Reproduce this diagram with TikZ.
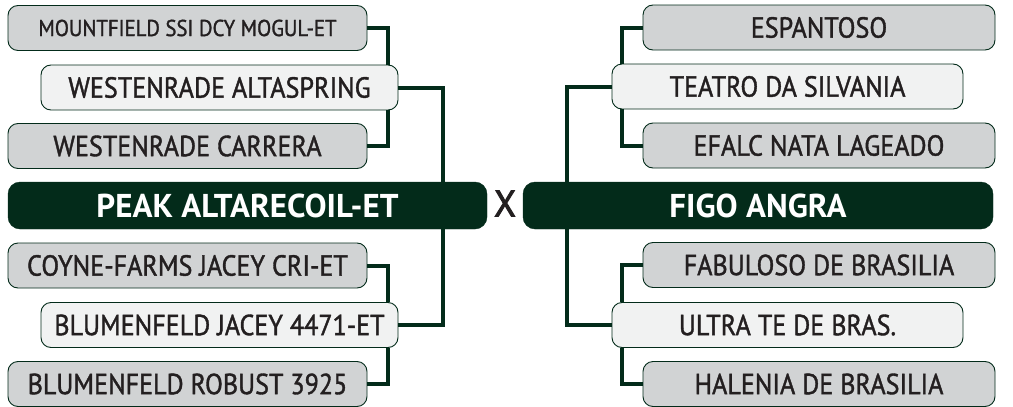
\documentclass[tikz,border=0pt]{standalone}
\usepackage{fontspec}
\setmainfont{PT Sans}
\newfontfamily\bodyfont{PT Sans}[FakeBold=1.3,FakeStretch=0.9]
\newfontfamily\xfont{PT Sans}[FakeBold=2.5,FakeStretch=0.95]
\definecolor{dkgreen}{HTML}{032B1A}
\definecolor{boxgray}{HTML}{D1D3D4}
\definecolor{boxlight}{HTML}{F1F2F2}
\definecolor{txt}{HTML}{231F20}
\tikzset{
  gbox/.style={draw=dkgreen, line width=0.9pt, fill=boxgray, rounded corners=10pt, text=txt,
    inner sep=0pt, minimum height=45pt, font=\bodyfont\fontsize{29}{29}\selectfont},
  lbox/.style={gbox, fill=boxlight},
  mainbox/.style={draw=dkgreen, fill=dkgreen, rounded corners=12pt, text=white, inner sep=0pt,
    minimum height=47pt, font=\fontsize{33}{33}\selectfont\bfseries},
  conn/.style={draw=dkgreen, line width=4pt},
}
\begin{document}
\begin{tikzpicture}[x=1pt,y=-1pt]
\path[use as bounding box] (0,0) rectangle (1013,407);
% left side
\node[gbox, minimum width=359pt, font=\bodyfont\fontsize{23}{23}\selectfont] (m1) at (187.5,28) {MOUNTFIELD SSI DCY MOGUL-ET};
\node[lbox, minimum width=357pt] (a1) at (219.5,87.5) {WESTENRADE ALTASPRING};
\node[gbox, minimum width=359pt] (c1) at (187.5,146) {WESTENRADE CARRERA};
\node[mainbox, minimum width=479pt] (peak) at (247.5,205.5) {PEAK ALTARECOIL-ET};
\node[gbox, minimum width=359pt] (m2) at (187.5,265.5) {COYNE-FARMS JACEY CRI-ET};
\node[lbox, minimum width=357pt] (a2) at (219.5,325) {BLUMENFELD JACEY 4471-ET};
\node[gbox, minimum width=359pt] (c2) at (187.5,384) {BLUMENFELD ROBUST 3925};
% X
\node[text=txt, inner sep=0pt, font=\xfont\fontsize{37}{37}\selectfont] (x) at (505,203.5) {X};
% right side
\node[gbox, minimum width=352pt] (e1) at (819,27.5) {ESPANTOSO};
\node[lbox, minimum width=351pt] (t1) at (787.5,86.5) {TEATRO DA SILVANIA};
\node[gbox, minimum width=352pt] (f1) at (819,145.5) {EFALC NATA LAGEADO};
\node[mainbox, minimum width=470pt] (figo) at (758,205.5) {FIGO ANGRA};
\node[gbox, minimum width=352pt] (e2) at (819,265) {FABULOSO DE BRASILIA};
\node[lbox, minimum width=351pt] (t2) at (787.5,325) {ULTRA TE DE BRAS.};
\node[gbox, minimum width=352pt] (f2) at (819,384) {HALENIA DE BRASILIA};
% connectors left
\draw[conn] (m1.east) -| ([xshift=-10pt]a1.north east);
\draw[conn] (c1.east) -| ([xshift=-10pt]a1.south east);
\draw[conn] (a1.east) -| ([xshift=-44pt]peak.north east);
\draw[conn] (m2.east) -| ([xshift=-10pt]a2.north east);
\draw[conn] (c2.east) -| ([xshift=-10pt]a2.south east);
\draw[conn] ([xshift=-44pt]peak.south east) |- (a2.east);
% connectors right
\draw[conn] (e1.west) -| ([xshift=10pt]t1.north west);
\draw[conn] (f1.west) -| ([xshift=10pt]t1.south west);
\draw[conn] (t1.west) -| ([xshift=44pt]figo.north west);
\draw[conn] (e2.west) -| ([xshift=10pt]t2.north west);
\draw[conn] (f2.west) -| ([xshift=10pt]t2.south west);
\draw[conn] ([xshift=44pt]figo.south west) |- (t2.west);
\end{tikzpicture}
\end{document}
